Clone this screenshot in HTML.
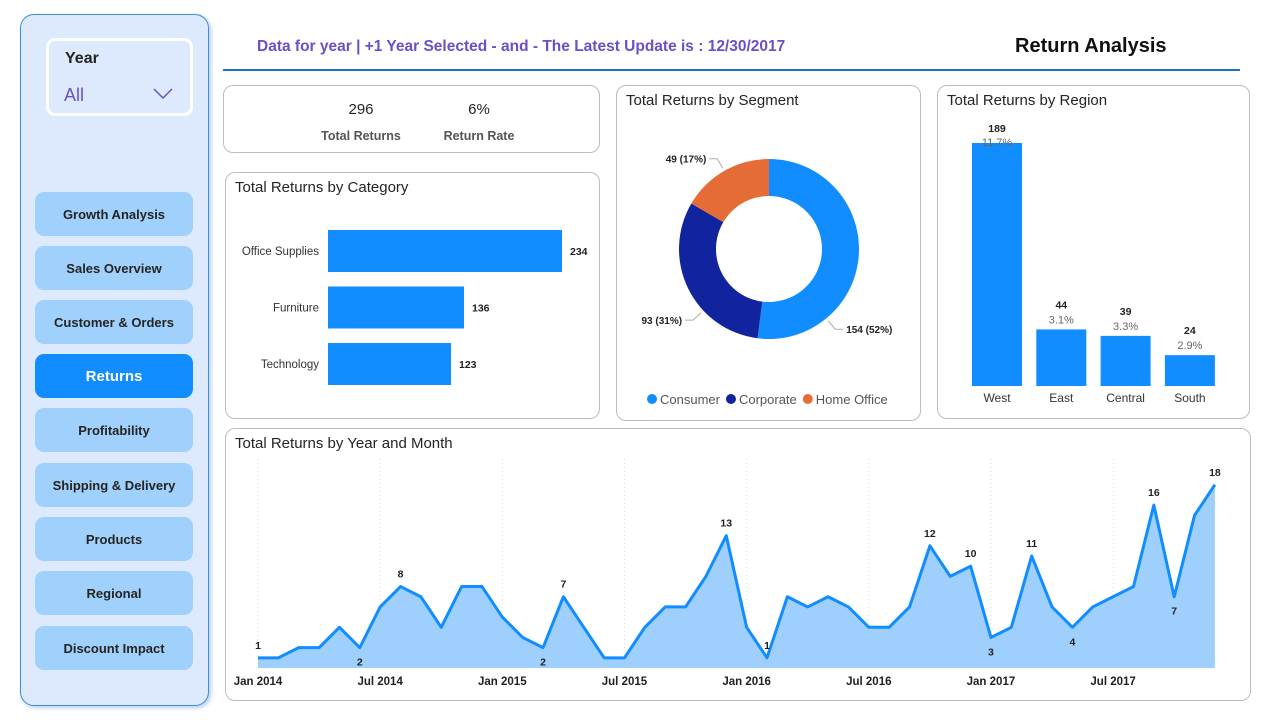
<!DOCTYPE html>
<html><head><meta charset="utf-8"><style>
*{box-sizing:border-box;margin:0;padding:0}
body{width:1262px;height:720px;background:#fff;font-family:"Liberation Sans",sans-serif;position:relative;overflow:hidden;color:#252423}
.abs{position:absolute}
.card{position:absolute;border:1px solid #bdbdbd;border-radius:10px;background:#fff}
.title{position:absolute;left:9px;top:6px;font-size:15px;color:#252423}
.btn{position:absolute;left:35px;width:158px;height:44px;background:#a0d0fc;border-radius:9px;font-size:13px;font-weight:bold;color:#252423;display:flex;align-items:center;justify-content:center}
</style></head><body>
<div class="abs" style="left:20px;top:14px;width:189px;height:692px;background:#dde9fc;border:1.5px solid #3b8fd6;border-radius:14px;box-shadow:2px 2px 4px #b8cde8"></div>
<div class="abs" style="left:46px;top:38px;width:147px;height:78px;border:3px solid #fff;border-radius:9px">
 <div class="abs" style="left:16px;top:9px;font-size:16px;font-weight:bold">Year</div>
 <div class="abs" style="left:15px;top:44px;font-size:18px;color:#6a4fc9">All</div>
 <svg class="abs" style="left:104px;top:47px" width="20" height="12"><polyline points="1,1 10,10 19,1" fill="none" stroke="#6a4fc9" stroke-width="1.5"/></svg>
</div>
<div class="btn" style="top:192px">Growth Analysis</div>
<div class="btn" style="top:246px">Sales Overview</div>
<div class="btn" style="top:300px">Customer &amp; Orders</div>
<div class="btn" style="top:354px;background:#118dff;color:#fff;font-size:15px">Returns</div>
<div class="btn" style="top:408px">Profitability</div>
<div class="btn" style="top:463px">Shipping &amp; Delivery</div>
<div class="btn" style="top:517px">Products</div>
<div class="btn" style="top:571px">Regional</div>
<div class="btn" style="top:626px">Discount Impact</div>

<div class="abs" style="left:257px;top:38px;font-size:15.5px;font-weight:bold;color:#6a4fc9">Data for year | +1 Year Selected - and - The Latest Update is : 12/30/2017</div>
<div class="abs" style="left:1015px;top:35px;font-size:20px;font-weight:bold;color:#111">Return Analysis</div>
<div class="abs" style="left:223px;top:69px;width:1017px;height:2px;background:#1f6fc0"></div>

<div class="card" style="left:223px;top:85px;width:377px;height:68px">
 <div class="abs" style="left:110px;top:15px;width:54px;text-align:center;font-size:15px">296</div>
 <div class="abs" style="left:80px;top:43px;width:114px;text-align:center;font-size:12.5px;font-weight:bold;color:#555">Total Returns</div>
 <div class="abs" style="left:228px;top:15px;width:54px;text-align:center;font-size:15px">6%</div>
 <div class="abs" style="left:205px;top:43px;width:100px;text-align:center;font-size:12.5px;font-weight:bold;color:#555">Return Rate</div>
</div>

<div class="card" style="left:225px;top:172px;width:375px;height:247px">
 <div class="title">Total Returns by Category</div>
 <svg id="catsvg" class="abs" style="left:0;top:0" width="375" height="247"></svg>
</div>

<div class="card" style="left:616px;top:85px;width:305px;height:336px">
 <div class="title">Total Returns by Segment</div>
 <svg id="segsvg" class="abs" style="left:0;top:0" width="305" height="336"></svg>
</div>

<div class="card" style="left:937px;top:85px;width:313px;height:334px">
 <svg id="regsvg" class="abs" style="left:0;top:0" width="313" height="334"></svg>
 <div class="title" style="background:transparent">Total Returns by Region</div>
</div>

<div class="card" style="left:225px;top:428px;width:1026px;height:273px">
 <div class="title">Total Returns by Year and Month</div>
 <svg id="linesvg" class="abs" style="left:0;top:0" width="1026" height="273"></svg>
</div>

<script>
const catNames=["Office Supplies","Furniture","Technology"];
const catValues=[234,136,123];
const segNames=["Consumer","Corporate","Home Office"];
const segValues=[154,93,49];
const segPct=["52%","31%","17%"];
const regNames=["West","East","Central","South"];
const regValues=[189,44,39,24];
const regPct=["11.7%","3.1%","3.3%","2.9%"];
const monthValues=[1,1,2,2,4,2,6,8,7,4,8,8, 5,3,2,7,4,1,1,4,6,6,9,13, 4,1,7,6,7,6,4,4,6,12,9,10, 3,4,11,6,4,6,7,8,16,7,15,18];
const monthTicks=["Jan 2014","Jul 2014","Jan 2015","Jul 2015","Jan 2016","Jul 2016","Jan 2017","Jul 2017"];
const labeledIdx=[0,5,7,14,15,23,25,33,35,36,38,40,44,45,47];
const labelBelow=[5,14,36,40,45];

const NS="http://www.w3.org/2000/svg";
function mk(svg,tag,attrs,txt){const e=document.createElementNS(NS,tag);for(const k in attrs)e.setAttribute(k,attrs[k]);if(txt!==undefined)e.textContent=txt;svg.appendChild(e);return e;}
const F='"Liberation Sans",sans-serif';

(function(){const s=document.getElementById('catsvg');
 const x0=102,scale=1; const xs=v=>v*scale; const yc=i=>78+i*56.5;
 catNames.forEach((n,i)=>{
  const b=mk(s,'rect',{x:x0,y:yc(i)-21,width:xs(catValues[i]),height:42,fill:'#118dff'});
  
  const t=mk(s,'text',{x:x0-9,y:yc(i)+4,'text-anchor':'end','font-size':11.5,'font-family':F,fill:'#333'},n);
  
  const v=mk(s,'text',{x:x0+xs(catValues[i])+8,y:yc(i)+4,'font-size':10.5,'font-weight':'bold','font-family':F,fill:'#222'},catValues[i]);
  
 });})();

(function(){const s=document.getElementById('segsvg');
 const cx=152,cy=163,R=90,r=53;const cols=['#118dff','#12239e','#e66c37'];
 const labelFrac=[0.75,0.35,0.5];
 const tot=segValues.reduce((a,b)=>a+b,0);let a0=0;
 const pt=(a,rad)=>[cx+rad*Math.sin(a),cy-rad*Math.cos(a)];
 segValues.forEach((v,i)=>{const a1=a0+v/tot*2*Math.PI;const lg=(a1-a0)>Math.PI?1:0;
  const p1=pt(a0,R),p2=pt(a1,R),p3=pt(a1,r),p4=pt(a0,r);
  const p=mk(s,'path',{d:`M${p1}A${R},${R} 0 ${lg} 1 ${p2}L${p3}A${r},${r} 0 ${lg} 0 ${p4}Z`,fill:cols[i]});
  
  const am=a0+(a1-a0)*labelFrac[i];const q1=pt(am,R+3),q2=pt(am,R+14);const right=Math.sin(am)>0;
  const q3=[q2[0]+(right?8:-8),q2[1]];
  mk(s,'polyline',{points:`${q1} ${q2} ${q3}`,fill:'none',stroke:'#aaa','stroke-width':1});
  const t=mk(s,'text',{x:q3[0]+(right?3:-3),y:q3[1]+4,'text-anchor':right?'start':'end','font-size':10,'font-weight':'bold','font-family':F,fill:'#222'},`${v} (${segPct[i]})`);
  
  a0=a1;});
 let lx=30;segNames.forEach((n,i)=>{
  const c=mk(s,'circle',{cx:lx+5,cy:313,r:5,fill:cols[i]});
  
  const t=mk(s,'text',{x:lx+13,y:318,'font-size':13,'font-family':F,fill:'#555'},n);
  
  lx+=13+t.getComputedTextLength()+6;});
})();

(function(){const s=document.getElementById('regsvg');
 const base=300,sc=243/189;const xc=i=>59+i*64.3;
 regNames.forEach((n,i)=>{const h=regValues[i]*sc;const top=base-h;
  const b=mk(s,'rect',{x:xc(i)-25,y:top,width:50,height:h,fill:'#118dff'});
  
  const v=mk(s,'text',{x:xc(i),y:Math.max(46,top-21),'text-anchor':'middle','font-size':10.5,'font-weight':'bold','font-family':F,fill:'#222'},regValues[i]);
  
  const p=mk(s,'text',{x:xc(i),y:Math.max(60,top-6),'text-anchor':'middle','font-size':11,'font-family':F,fill:'#666'},regPct[i]);
  
  const l=mk(s,'text',{x:xc(i),y:base+16,'text-anchor':'middle','font-size':12,'font-family':F,fill:'#333'},n);
  
 });})();

(function(){const s=document.getElementById('linesvg');
 const x=i=>32+i*20.36;const base=239;const y=v=>base-v*10.18;
 monthTicks.forEach((t,k)=>{const xi=x(k*6);
  mk(s,'line',{x1:xi,y1:30,x2:xi,y2:base,stroke:'#ddd','stroke-dasharray':'1,3'});
  const tt=mk(s,'text',{x:xi,y:256,'text-anchor':'middle','font-size':11.5,'font-weight':'bold','font-family':F,fill:'#222'},t);
  });
 let d=`M${x(0)},${base}`;monthValues.forEach((v,i)=>d+=`L${x(i)},${y(v)}`);d+=`L${x(monthValues.length-1)},${base}Z`;
 const a=mk(s,'path',{d:d,fill:'#9fd0fd'});
 const l=mk(s,'polyline',{points:monthValues.map((v,i)=>`${x(i)},${y(v)}`).join(' '),fill:'none',stroke:'#118dff','stroke-width':3,'stroke-linejoin':'round'});
 
 labeledIdx.forEach(i=>{const below=labelBelow.includes(i);
  const t=mk(s,'text',{x:x(i),y:below?y(monthValues[i])+18:y(monthValues[i])-9,'text-anchor':'middle','font-size':10.5,'font-weight':'bold','font-family':F,fill:'#222'},monthValues[i]);
  });
})();
</script>
</body></html>
